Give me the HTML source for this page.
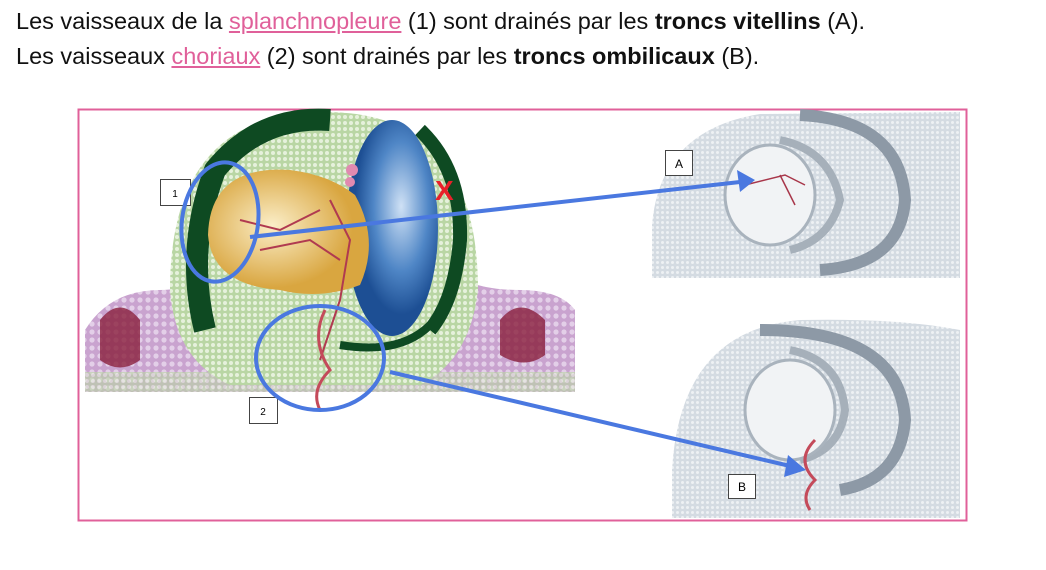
<!DOCTYPE html>
<html><head><meta charset="utf-8"><style>
body{margin:0;width:1046px;height:570px;background:#fff;overflow:hidden;font-family:"Liberation Sans",sans-serif;}
.t{position:absolute;left:16px;font-size:23.5px;color:#111;white-space:nowrap}
.t a{color:#e0609a;text-decoration:underline}
svg{position:absolute;left:0;top:0}
</style></head><body>
<div class="t" style="top:8px">Les vaisseaux de la <a>splanchnopleure</a> (1) sont drainés par les <b>troncs vitellins</b> (A).</div>
<div class="t" style="top:43px">Les vaisseaux <a>choriaux</a> (2) sont drainés par les <b>troncs ombilicaux</b> (B).</div>
<svg width="1046" height="570">
<defs>
<pattern id="dots" width="6" height="6" patternUnits="userSpaceOnUse"><rect width="6" height="6" fill="#b9d6a4"/><circle cx="3" cy="3" r="2" fill="#e6f1dc"/></pattern>
<pattern id="pd" width="8" height="8" patternUnits="userSpaceOnUse"><rect width="8" height="8" fill="#c9a3cf"/><circle cx="4" cy="4" r="2.6" fill="#e3cfe8"/></pattern>
<pattern id="gd" width="5" height="5" patternUnits="userSpaceOnUse"><rect width="5" height="5" fill="#d4dbe2"/><circle cx="2.5" cy="2.5" r="1.5" fill="#eef1f4"/></pattern>
<radialGradient id="y" cx="0.4" cy="0.45"><stop offset="0" stop-color="#fbeec8"/><stop offset="1" stop-color="#d9a640"/></radialGradient>
<radialGradient id="b" cx="0.6" cy="0.4"><stop offset="0" stop-color="#cfe1f5"/><stop offset="0.6" stop-color="#4f86c6"/><stop offset="1" stop-color="#1d4f94"/></radialGradient>
</defs>
<rect x="78.5" y="109.5" width="888" height="411" fill="none" stroke="#e0609a" stroke-width="2"/>
<!-- left image -->
<path d="M85 330 Q110 290 160 290 Q200 290 215 260 L440 260 Q460 290 520 290 Q560 290 575 310 L575 392 L85 392 Z" fill="url(#pd)"/>
<path d="M100 320 q20 -25 40 0 l0 40 q-20 15 -40 0 Z M500 320 q20 -25 45 0 l0 35 q-20 15 -45 0Z" fill="#8a1f3c" opacity="0.8"/>
<path d="M170 290 Q170 112 325 112 Q478 112 478 290 Q470 360 420 385 L230 385 Q175 360 170 290Z" fill="url(#dots)"/>
<path d="M205 330 Q185 250 215 170 Q260 115 330 120" fill="none" stroke="#0e4a22" stroke-width="22"/>
<path d="M420 130 Q462 170 460 240 Q455 300 430 330" fill="none" stroke="#0e4a22" stroke-width="14"/>
<path d="M340 345 Q400 355 430 325" fill="none" stroke="#0e4a22" stroke-width="8"/>
<rect x="85" y="372" width="490" height="20" fill="url(#dots)" opacity="0.6"/>
<ellipse cx="392" cy="228" rx="46" ry="108" fill="url(#b)"/>
<path d="M208 235 Q210 165 290 170 Q330 175 355 195 Q380 240 360 285 Q320 300 280 290 Q212 285 208 235Z" fill="url(#y)"/>
<path d="M240 220 l40 10 l40 -20 M260 250 l50 -10 l30 20 M330 200 l20 40 l-10 60 l-20 60" stroke="#b03a50" stroke-width="2" fill="none"/>
<path d="M325 310 q-15 30 5 60 q-20 20 -10 40" stroke="#c44a5a" stroke-width="3" fill="none"/>
<circle cx="352" cy="170" r="6" fill="#e08ab0"/><circle cx="350" cy="182" r="5" fill="#e08ab0"/>
<text x="435" y="200" font-family="Liberation Sans" font-weight="bold" font-size="28" fill="#e8202a">X</text>
<rect x="160.5" y="179.5" width="30" height="26" fill="#fff" stroke="#444"/><text x="175" y="197" font-size="10" text-anchor="middle">1</text>
<rect x="249.5" y="397.5" width="28" height="26" fill="#fff" stroke="#444"/><text x="263" y="415" font-size="10" text-anchor="middle">2</text>
<!-- right top -->
<path d="M652 225 Q660 130 760 114 L960 112 L960 278 L652 278Z" fill="url(#gd)"/>
<path d="M800 115 Q900 120 905 200 Q900 265 820 270" fill="none" stroke="#8d99a6" stroke-width="12"/>
<path d="M780 140 Q830 150 840 200 Q830 240 790 250" fill="none" stroke="#a6b0ba" stroke-width="8"/>
<ellipse cx="770" cy="195" rx="45" ry="50" fill="#f1f3f5" stroke="#a9b3bd" stroke-width="3"/>
<path d="M745 185 l40 -10 l20 10 M780 175 l15 30" stroke="#a8364a" stroke-width="1.5" fill="none"/>
<rect x="665.5" y="150.5" width="27" height="25" fill="#fff" stroke="#444"/><text x="679" y="168" font-size="12" text-anchor="middle">A</text>
<!-- right bottom -->
<path d="M672 470 Q680 330 800 320 Q900 318 960 330 L960 518 L672 518Z" fill="url(#gd)"/>
<path d="M760 330 Q900 330 905 420 Q900 480 840 490" fill="none" stroke="#8d99a6" stroke-width="12"/>
<path d="M790 350 Q840 360 845 410 Q840 450 800 460" fill="none" stroke="#a6b0ba" stroke-width="8"/>
<ellipse cx="790" cy="410" rx="45" ry="50" fill="#f1f3f5" stroke="#a9b3bd" stroke-width="3"/>
<path d="M815 440 q-20 20 0 40 q-15 15 -5 30" stroke="#c44a5a" stroke-width="3" fill="none"/>
<rect x="728.5" y="474.5" width="27" height="24" fill="#fff" stroke="#444"/><text x="742" y="491" font-size="12" text-anchor="middle">B</text>
<!-- blue annotations -->
<g stroke="#4a78e0" stroke-width="4" fill="none">
<ellipse cx="220" cy="222" rx="38" ry="60" transform="rotate(8 220 222)"/>
<ellipse cx="320" cy="358" rx="64" ry="52"/>
<line x1="250" y1="237" x2="740" y2="182"/>
<line x1="390" y1="372" x2="790" y2="466"/>
</g>
<path d="M755 180 L737 170 L740 192Z" fill="#4a78e0"/>
<path d="M806 470 L788 455 L784 477Z" fill="#4a78e0"/>
</svg>
</body></html>
